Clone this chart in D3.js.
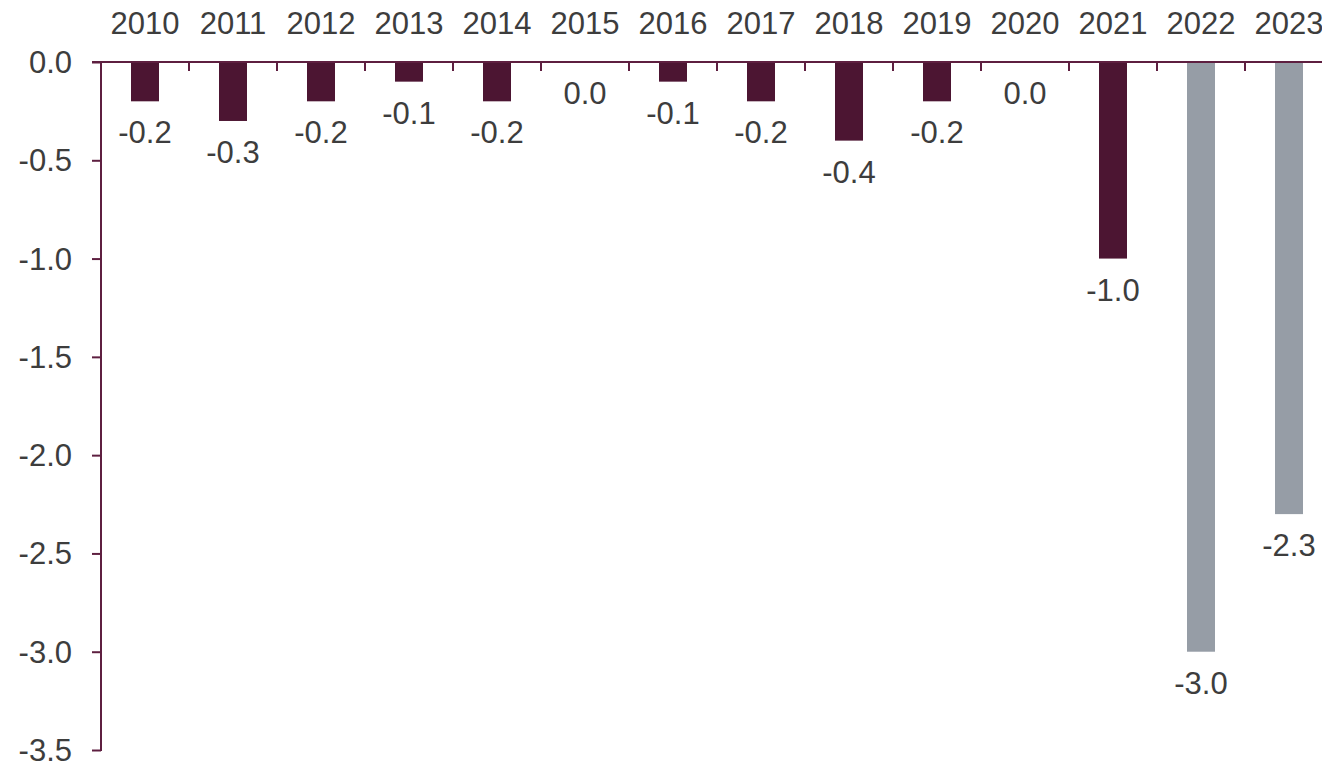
<!DOCTYPE html>
<html>
<head>
<meta charset="utf-8">
<script src="https://cdn.jsdelivr.net/npm/d3@7"></script>
<style>
  html, body { margin: 0; padding: 0; background: #fff; overflow: hidden; }
  svg { display: block; }
  text { font-family: "Liberation Sans", Arial, sans-serif; fill: #3d3d3d; }
</style>
</head>
<body>
<svg id="chart" width="1322" height="765"></svg>
<script>
const years = ["2010","2011","2012","2013","2014","2015","2016","2017","2018","2019","2020","2021","2022","2023"];
const values = [-0.2,-0.3,-0.2,-0.1,-0.2,0.0,-0.1,-0.2,-0.4,-0.2,0.0,-1.0,-3.0,-2.3];
const isForecast = [false,false,false,false,false,false,false,false,false,false,false,false,true,true];
const yTicks = [0,-0.5,-1.0,-1.5,-2.0,-2.5,-3.0,-3.5];

const colActual = "#4c1532";
const colForecast = "#969da6";
const axisCol = "#5e1f40";
const fs = "31px";

const svg = d3.select("#chart");
const left = 101, right = 1333, top0 = 62, bottom = 750;

const x = d3.scaleBand().domain(years).range([left, right]).paddingInner(0).paddingOuter(0);
const y = d3.scaleLinear().domain([0, -3.5]).range([top0, bottom]);
const barW = 28;

// bars
svg.append("g").selectAll("rect").data(years).join("rect")
  .attr("x", (d) => x(d) + x.bandwidth()/2 - barW/2)
  .attr("y", y(0))
  .attr("width", barW)
  .attr("height", (d,i) => y(values[i]) - y(0))
  .attr("fill", (d,i) => isForecast[i] ? colForecast : colActual);

// value labels
svg.append("g").selectAll("text").data(years).join("text")
  .attr("x", (d) => x(d) + x.bandwidth()/2)
  .attr("y", (d,i) => y(values[i]) + 42)
  .attr("text-anchor", "middle")
  .style("font-size", fs)
  .text((d,i) => values[i].toFixed(1));

// y axis
const yAxis = d3.axisLeft(y).tickValues(yTicks).tickSize(9).tickPadding(20);
const gy = svg.append("g").attr("transform", `translate(${left},0)`).call(yAxis);
gy.select(".domain").remove();
gy.selectAll(".tick line").attr("stroke", axisCol).attr("stroke-width", 2);
gy.selectAll(".tick text").style("font-size", fs).attr("fill", "#3d3d3d")
  .attr("dy", "0.34em")
  .text(d => d3.format(".1f")(d).replace("−","-"));
gy.append("line").attr("x1", 0).attr("x2", 0).attr("y1", y(0)).attr("y2", y(-3.5) + 1)
  .attr("stroke", axisCol).attr("stroke-width", 2);

// x axis (at zero, ticks at band boundaries, labels on top)
const gx = svg.append("g");
gx.append("line").attr("x1", left - 9).attr("x2", right).attr("y1", y(0)).attr("y2", y(0))
  .attr("stroke", axisCol).attr("stroke-width", 2);
const bounds = years.slice(1).map(d => x(d));
gx.selectAll("line.tk").data(bounds).join("line").attr("class","tk")
  .attr("x1", d => d).attr("x2", d => d).attr("y1", y(0)).attr("y2", y(0) + 9)
  .attr("stroke", axisCol).attr("stroke-width", 2);
gx.selectAll("text").data(years).join("text")
  .attr("x", d => x(d) + x.bandwidth()/2)
  .attr("y", 34)
  .attr("text-anchor", "middle")
  .style("font-size", fs)
  .text(d => d);
</script>
</body>
</html>
